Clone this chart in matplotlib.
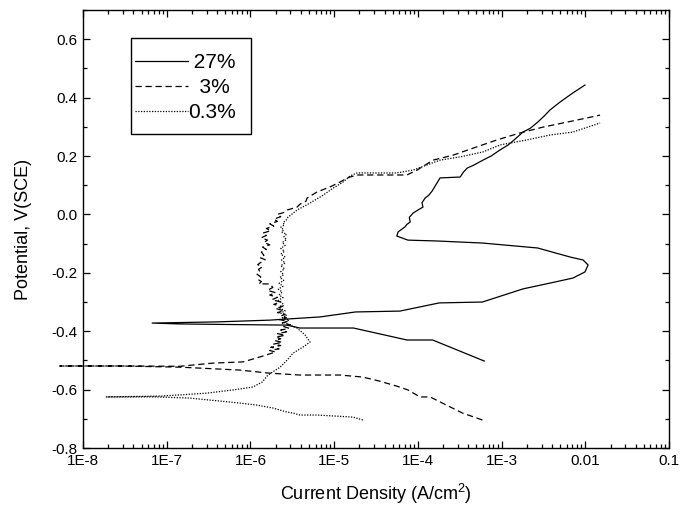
import matplotlib
matplotlib.use("Agg")
import matplotlib.pyplot as plt
from matplotlib.patches import Rectangle
from matplotlib.ticker import FixedLocator, MultipleLocator, LogLocator, NullFormatter

plt.rcParams['font.family'] = ['Liberation Sans', 'DejaVu Sans']
plt.rcParams['mathtext.fontset'] = 'custom'
plt.rcParams['mathtext.rm'] = 'Liberation Sans'
plt.rcParams['mathtext.it'] = 'Liberation Sans'

# 27% - scan from cathodic end, through Ecorr, to anodic end
i_27 = [6.2e-4, 1.5e-4, 7.4e-5, 1.7e-5, 3.9e-6, 2.7e-6, 5.7e-7, 1.4e-7, 6.7e-8,
        4.0e-7, 1.7e-6, 6.8e-6, 1.8e-5, 6.1e-5, 1.8e-4, 5.9e-4, 1.8e-3, 3.8e-3,
        7.1e-3, 9.9e-3, 1.08e-2, 9.4e-3, 6.6e-3, 2.7e-3, 5.9e-4, 1.7e-4, 7.6e-5,
        5.6e-5, 5.8e-5, 7.0e-5, 7.4e-5, 8.1e-5, 7.9e-5, 8.8e-5, 1.0e-4, 1.15e-4,
        1.12e-4, 1.22e-4, 1.35e-4, 1.48e-4, 1.84e-4,
        3.2e-4, 3.5e-4, 3.9e-4, 4.6e-4, 6.0e-4, 7.5e-4, 9.6e-4, 1.2e-3, 1.45e-3,
        1.8e-3, 2.2e-3, 2.7e-3, 3.2e-3, 3.8e-3, 5.0e-3, 7.1e-3, 9.9e-3]
E_27 = [-0.502, -0.430, -0.430, -0.389, -0.389, -0.379, -0.377, -0.375, -0.372,
        -0.368, -0.362, -0.351, -0.334, -0.331, -0.303, -0.300, -0.255, -0.235,
        -0.218, -0.197, -0.173, -0.156, -0.146, -0.115, -0.098, -0.091, -0.088,
        -0.074, -0.060, -0.043, -0.034, -0.026, -0.010, 0.005, 0.015, 0.025,
        0.040, 0.056, 0.066, 0.080, 0.125,
        0.128, 0.145, 0.159, 0.168, 0.186, 0.200, 0.221, 0.238, 0.258,
        0.282, 0.295, 0.316, 0.336, 0.358, 0.385, 0.416, 0.443]

# 3%
i_3 = [5.9e-4, 3.4e-4, 1.84e-4, 1.4e-4, 1.06e-4, 7.6e-5, 5.6e-5, 3.5e-5, 2.2e-5,
       1.18e-5, 3.9e-6, 1.6e-6, 7.5e-7, 1.44e-7, 2.8e-8, 5.3e-9,
       2.8e-8, 1.44e-7, 3.6e-7, 8.2e-7, 1.3e-6, 2.0e-6,
       1.7e-6, 2.2e-6, 1.75e-6, 2.3e-6, 1.9e-6, 2.4e-6, 1.95e-6, 2.3e-6, 2.0e-6,
       2.6e-6, 2.1e-6, 2.7e-6, 2.3e-6, 2.9e-6, 2.5e-6, 3.0e-6, 2.4e-6, 2.8e-6,
       2.2e-6, 2.7e-6, 2.3e-6, 2.6e-6, 2.1e-6, 2.5e-6, 2.0e-6, 2.4e-6, 1.9e-6,
       2.3e-6, 1.8e-6, 2.1e-6, 1.7e-6, 2.0e-6, 1.6e-6, 1.85e-6, 1.71e-6,
       1.27e-6, 1.35e-6, 1.22e-6, 1.33e-6, 1.2e-6, 1.3e-6, 1.25e-6, 1.38e-6,
       1.22e-6, 1.35e-6, 1.5e-6, 1.3e-6, 1.45e-6, 1.35e-6, 1.55e-6, 1.4e-6,
       1.7e-6, 1.45e-6, 1.6e-6, 1.35e-6, 1.55e-6, 1.4e-6, 1.75e-6, 1.55e-6,
       1.9e-6, 1.7e-6, 2.1e-6, 1.9e-6, 2.3e-6, 2.1e-6, 2.6e-6, 2.74e-6,
       3.6e-6, 3.9e-6, 4.6e-6, 4.75e-6, 6.25e-6, 8.9e-6, 1.18e-5,
       1.43e-5, 1.88e-5, 7.4e-5, 9.8e-5, 1.52e-4, 2.64e-4, 4.57e-4, 8.8e-4,
       1.66e-3, 3.13e-3, 6.06e-3, 1.5e-2]
E_3 = [-0.704, -0.680, -0.642, -0.625, -0.625, -0.601, -0.588, -0.571, -0.557,
       -0.550, -0.550, -0.543, -0.533, -0.523, -0.519, -0.519,
       -0.519, -0.520, -0.509, -0.505, -0.488, -0.471,
       -0.466, -0.460, -0.455, -0.449, -0.444, -0.438, -0.432, -0.426, -0.420,
       -0.414, -0.408, -0.402, -0.396, -0.390, -0.384, -0.378, -0.372, -0.366,
       -0.360, -0.354, -0.348, -0.342, -0.336, -0.330, -0.322, -0.315, -0.308,
       -0.300, -0.292, -0.284, -0.276, -0.268, -0.260, -0.250, -0.238,
       -0.238, -0.230, -0.222, -0.214, -0.205, -0.197, -0.188, -0.180,
       -0.172, -0.163, -0.155, -0.148, -0.140, -0.129, -0.120, -0.112,
       -0.104, -0.096, -0.088, -0.080, -0.072, -0.064, -0.056, -0.048,
       -0.040, -0.032, -0.024, -0.016, -0.008, 0.000, 0.008, 0.015,
       0.025, 0.035, 0.045, 0.056, 0.077, 0.094, 0.111,
       0.125, 0.135, 0.135, 0.152, 0.186, 0.203, 0.227, 0.255,
       0.279, 0.299, 0.316, 0.340]

# 0.3%
i_03 = [2.2e-5, 1.68e-5, 6.25e-6, 3.9e-6, 3.2e-6, 2.74e-6, 1.86e-6, 1.2e-6, 7.5e-7,
        1.9e-7, 7.7e-8, 1.9e-8,
        8.3e-8, 1.44e-7, 3.0e-7, 6.2e-7, 1.07e-6, 1.38e-6, 1.62e-6, 2.26e-6,
        2.74e-6, 3.23e-6, 4.25e-6, 5.15e-6, 4.5e-6, 3.6e-6,
        2.97e-6, 2.5e-6, 2.9e-6, 2.4e-6, 2.7e-6, 2.3e-6, 2.6e-6, 2.2e-6, 2.5e-6,
        2.39e-6, 2.15e-6, 2.45e-6, 2.2e-6, 2.4e-6, 2.15e-6, 2.45e-6, 2.2e-6,
        2.5e-6, 2.25e-6, 2.5e-6, 2.3e-6, 2.55e-6, 2.3e-6, 2.6e-6, 2.35e-6,
        2.6e-6, 2.3e-6, 2.55e-6, 2.3e-6, 2.6e-6, 2.4e-6, 2.7e-6, 2.5e-6,
        2.7e-6, 2.35e-6, 2.5e-6, 2.3e-6, 2.55e-6, 2.45e-6, 2.7e-6, 2.81e-6,
        3.2e-6, 3.6e-6, 5.15e-6, 7.4e-6, 9.7e-6, 1.28e-5,
        1.55e-5, 1.88e-5, 5.6e-5, 8.8e-5, 1.84e-4, 3.2e-4, 6.0e-4, 9.6e-4,
        2.0e-3, 3.8e-3, 7.1e-3, 1.5e-2]
E_03 = [-0.704, -0.694, -0.687, -0.687, -0.680, -0.677, -0.663, -0.653, -0.646,
        -0.629, -0.625, -0.625,
        -0.622, -0.618, -0.612, -0.601, -0.591, -0.574, -0.550, -0.523,
        -0.499, -0.475, -0.454, -0.437, -0.413, -0.389,
        -0.379, -0.370, -0.362, -0.354, -0.346, -0.338, -0.330, -0.320, -0.312,
        -0.303, -0.294, -0.285, -0.276, -0.266, -0.256, -0.246, -0.236,
        -0.226, -0.216, -0.206, -0.196, -0.186, -0.176, -0.166, -0.156,
        -0.146, -0.136, -0.126, -0.116, -0.106, -0.096, -0.086, -0.077,
        -0.068, -0.060, -0.053, -0.044, -0.036, -0.029, -0.018, -0.009,
        0.003, 0.015, 0.039, 0.066, 0.090, 0.111,
        0.132, 0.142, 0.142, 0.152, 0.186, 0.197, 0.214, 0.238,
        0.255, 0.272, 0.282, 0.313]

labels = [" 27%", "  3%", "0.3%"]
x_ticks = [1e-8, 1e-7, 1e-6, 1e-5, 1e-4, 1e-3, 1e-2, 1e-1]
x_tick_labels = ["1E-8", "1E-7", "1E-6", "1E-5", "1E-4", "1E-3", "0.01", "0.1"]

fig = plt.figure(figsize=(6.82, 5.15), dpi=100)
ax = fig.add_axes([0.1217, 0.130, 0.8593, 0.8506])

ax.plot(i_27, E_27, color="black", lw=0.9, label=labels[0])
ax.plot(i_3, E_3, color="black", lw=0.9, linestyle=(0, (5, 3)), label=labels[1], clip_on=False)
ax.plot(i_03, E_03, color="black", lw=0.9, linestyle=(0, (1, 1.2)), label=labels[2])

ax.set_xscale("log")
ax.set_xlim(1e-8, 0.1)
ax.set_ylim(-0.8, 0.7)
ax.xaxis.set_major_locator(FixedLocator(x_ticks))
ax.set_xticklabels(x_tick_labels)
ax.xaxis.set_minor_locator(LogLocator(base=10, subs=range(2, 10), numticks=20))
ax.xaxis.set_minor_formatter(NullFormatter())
ax.yaxis.set_major_locator(MultipleLocator(0.2))
ax.yaxis.set_minor_locator(MultipleLocator(0.1))
ax.yaxis.set_major_formatter(plt.FuncFormatter(lambda v, p: "%.1f" % v))

ax.tick_params(which="both", direction="in", top=True, right=True, labelsize=11, width=0.9)
ax.tick_params(which="major", length=5, pad=4)
ax.tick_params(which="minor", length=3)
for s in ax.spines.values():
    s.set_linewidth(1.0)

ax.set_xlabel(r"Current Density (A/cm$^2$)", fontsize=13, labelpad=10)
ax.set_ylabel("Potential, V(SCE)", fontsize=13, labelpad=14)

leg = ax.legend(loc="upper left", bbox_to_anchor=(0.088, 0.902), frameon=False,
                fontsize=15, handlelength=2.55, handletextpad=0.0, labelspacing=0.3,
                borderpad=0, borderaxespad=0)
ax.add_patch(Rectangle((0.082, 0.717), 0.205, 0.219, transform=ax.transAxes,
                       fill=False, edgecolor="black", lw=1.0))

plt.savefig("out.png", dpi=100)
